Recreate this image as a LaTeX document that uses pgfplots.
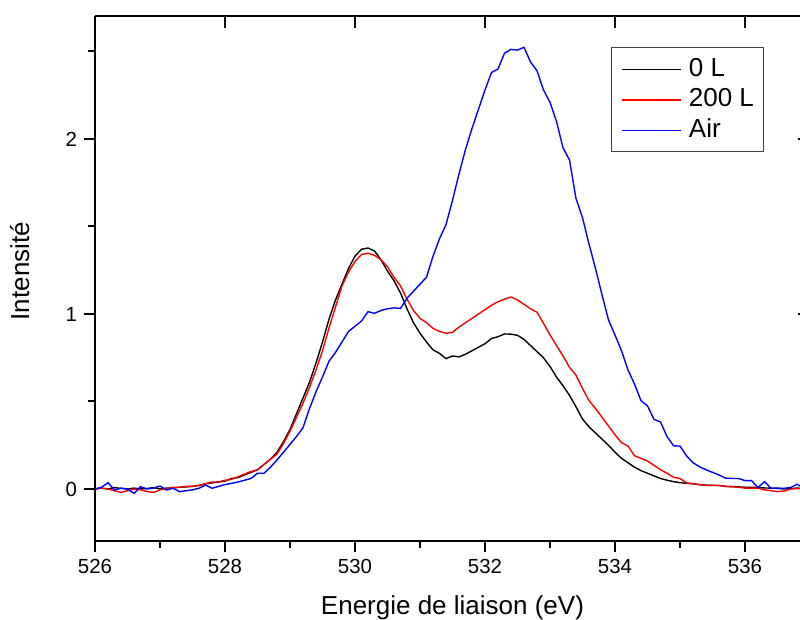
\documentclass[border=0pt]{standalone}
\usepackage{pgfplots}
\pgfplotsset{compat=1.18}
\usepackage{pgfplotstable}
\usepackage{fontspec}
\setmainfont{Liberation Sans}
\usetikzlibrary{calc}

\pgfplotstableread{
E      zero    two     air
526.0  0.000   0.000   0.000
526.1  0.005   0.005   0.010
526.2  0.000   0.000   0.036
526.3  0.008  -0.010  -0.006
526.4  0.003  -0.020   0.005
526.5  0.000  -0.010   0.000
526.6  0.005   0.000  -0.025
526.7  0.000  -0.005   0.013
526.8  0.003  -0.015   0.000
526.9  0.008  -0.020   0.005
527.0  0.000  -0.005   0.017
527.1  0.005   0.000  -0.006
527.2  0.005   0.010   0.004
527.3  0.010   0.010  -0.015
527.4  0.012   0.015  -0.010
527.5  0.015   0.015  -0.005
527.6  0.020   0.020   0.004
527.7  0.030   0.030   0.023
527.8  0.035   0.040   0.004
527.9  0.040   0.040   0.015
528.0  0.045   0.050   0.025
528.1  0.060   0.055   0.032
528.2  0.065   0.070   0.040
528.3  0.080   0.085   0.050
528.4  0.095   0.100   0.060
528.5  0.110   0.110   0.090
528.6  0.140   0.140   0.090
528.7  0.170   0.170   0.125
528.8  0.210   0.200   0.166
528.9  0.270   0.260   0.210
529.0  0.340   0.330   0.255
529.1  0.430   0.410   0.300
529.2  0.520   0.490   0.350
529.3  0.610   0.580   0.460
529.4  0.720   0.680   0.555
529.5  0.840   0.790   0.640
529.6  0.970   0.920   0.730
529.7  1.080   1.040   0.780
529.8  1.170   1.160   0.840
529.9  1.260   1.240   0.900
530.0  1.330   1.300   0.930
530.1  1.370   1.340   0.960
530.2  1.377   1.347   1.013
530.3  1.360   1.335   1.004
530.4  1.310   1.310   1.020
530.5  1.245   1.270   1.030
530.6  1.190   1.210   1.035
530.7  1.120   1.160   1.032
530.8  1.030   1.085   1.090
530.9  0.950   1.020   1.130
531.0  0.890   0.975   1.170
531.1  0.840   0.950   1.210
531.2  0.795   0.918   1.330
531.3  0.775   0.900   1.430
531.4  0.745   0.890   1.510
531.5  0.760   0.895   1.650
531.6  0.755   0.925   1.800
531.7  0.770   0.950   1.940
531.8  0.790   0.975   2.060
531.9  0.810   1.000   2.170
532.0  0.830   1.025   2.280
532.1  0.860   1.050   2.380
532.2  0.870   1.070   2.400
532.3  0.886   1.085   2.490
532.4  0.885   1.097   2.512
532.5  0.878   1.080   2.508
532.6  0.855   1.055   2.524
532.7  0.820   1.030   2.440
532.8  0.785   1.010   2.390
532.9  0.750   0.947   2.280
533.0  0.700   0.880   2.210
533.1  0.640   0.820   2.100
533.2  0.590   0.760   1.950
533.3  0.535   0.695   1.880
533.4  0.470   0.650   1.660
533.5  0.400   0.575   1.550
533.6  0.355   0.505   1.400
533.7  0.320   0.460   1.260
533.8  0.285   0.410   1.110
533.9  0.250   0.360   0.966
534.0  0.210   0.310   0.880
534.1  0.175   0.265   0.790
534.2  0.150   0.245   0.680
534.3  0.125   0.190   0.600
534.4  0.105   0.175   0.505
534.5  0.090   0.160   0.475
534.6  0.075   0.135   0.398
534.7  0.060   0.110   0.383
534.8  0.050   0.090   0.300
534.9  0.042   0.067   0.247
535.0  0.036   0.060   0.245
535.1  0.033   0.035   0.190
535.2  0.030   0.030   0.150
535.3  0.025   0.025   0.127
535.4  0.022   0.020   0.110
535.5  0.020   0.022   0.095
535.6  0.020   0.020   0.080
535.7  0.015   0.015   0.062
535.8  0.013   0.013   0.060
535.9  0.012   0.010   0.060
536.0  0.010   0.005   0.048
536.1  0.010   0.005   0.048
536.2  0.008   0.005   0.008
536.3  0.006  -0.005   0.042
536.4  0.005  -0.010   0.004
536.5  0.003  -0.015   0.005
536.6  0.000  -0.012   0.004
536.7  0.003   0.000   0.008
536.8  0.005   0.002   0.027
536.9  0.003   0.000   0.004
537.0  0.000   0.000   0.010
}\spectra

\begin{document}
\begin{tikzpicture}
\begin{axis}[
  scale only axis,
  width=357.5pt, height=262.5pt,
  xmin=526, xmax=537, ymin=-0.3, ymax=2.7,
  axis x line*=bottom, axis y line*=left,
  axis line style={line width=1pt,-},
  tick align=outside,
  xtick={526,528,...,536}, minor xtick={527,529,...,535},
  ytick={0,1,2}, minor ytick={0.5,1.5,2.5},
  major tick length=5.5pt, minor tick length=3.5pt,
  every tick/.style={line width=1pt, black},
  /pgf/number format/assume math mode=true,
  /pgf/number format/1000 sep={},
  ticklabel style={font=\fontsize{10.2}{12}\selectfont},
  xlabel={Energie de liaison (eV)},
  ylabel={Intensité},
  label style={font=\fontsize{13}{15}\selectfont},
  xlabel style={at={(axis description cs:0.5,-0.14)}, anchor=base},
  ylabel style={at={(axis description cs:-0.0923,0.515)}, anchor=base},
  legend style={at={(axis description cs:0.7217,0.941)}, anchor=north west,
    draw=black!75, line width=0.5pt, font=\fontsize{13}{15}\selectfont,
    inner xsep=5pt, inner ysep=4.75pt, row sep=3.25pt, column sep=3.5pt,
    nodes={inner xsep=0pt, inner ysep=0pt, text height=9.5pt, text depth=2.5pt}},
  legend cell align=left,
  legend image code/.code={\draw[#1, line width=0.7pt] (0pt,0pt) -- (29.5pt,0pt);},
  every axis plot/.append style={line width=0.7pt, no markers},
]
\addplot[black] table[x=E, y=zero] {\spectra};
\addlegendentry{0 L}
\addplot[red] table[x=E, y=two] {\spectra};
\addlegendentry{200 L}
\addplot[blue] table[x=E, y=air] {\spectra};
\addlegendentry{Air}
\coordinate (SW) at (rel axis cs:0,0);
\end{axis}
\begin{axis}[
  scale only axis,
  width=357.5pt, height=262.5pt,
  xmin=526, xmax=537, ymin=-0.3, ymax=2.7,
  axis x line*=top, axis y line*=right,
  axis line style={line width=1pt,-},
  tick align=inside,
  xtick={528,530,...,536}, ytick={1,2},
  xticklabels={}, yticklabels={},
  minor tick num=0,
  major tick length=6pt,
  every tick/.style={line width=1pt, black},
]
\end{axis}
\pgfresetboundingbox
\path[use as bounding box] ($(SW)+(-47.5pt,-39.25pt)$) rectangle ($(SW)+(352.5pt,270.75pt)$);
\end{tikzpicture}
\end{document}
